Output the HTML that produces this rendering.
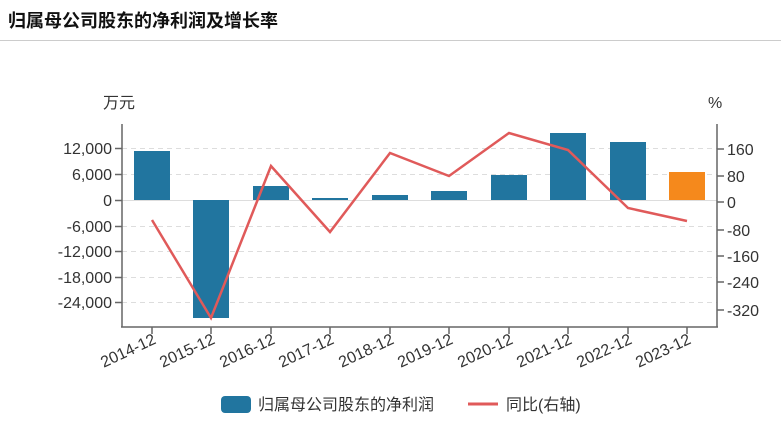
<!DOCTYPE html>
<html><head><meta charset="utf-8"><style>
body{margin:0;width:781px;height:426px;background:#fff;overflow:hidden;font-family:"Liberation Sans","Noto Sans CJK SC",sans-serif}
svg text{font-family:"Liberation Sans","Noto Sans CJK SC",sans-serif;fill:#333}
</style></head><body>
<svg width="781" height="426" viewBox="0 0 781 426">
<text x="8" y="27" font-size="18" font-weight="bold" style="fill:#111">归属母公司股东的净利润及增长率</text>
<line x1="0" y1="40.5" x2="781" y2="40.5" stroke="#ccc"/>
<text x="103" y="108" font-size="16">万元</text>
<text x="708" y="108" font-size="16">%</text>
<g stroke="#ddd" stroke-dasharray="5,4">
<line x1="122" x2="717" y1="148.5" y2="148.5"/><line x1="122" x2="717" y1="174.5" y2="174.5"/>
<line x1="122" x2="717" y1="226.5" y2="226.5"/><line x1="122" x2="717" y1="251.5" y2="251.5"/>
<line x1="122" x2="717" y1="277.5" y2="277.5"/><line x1="122" x2="717" y1="302.5" y2="302.5"/>
</g>
<line x1="122" x2="717" y1="200.5" y2="200.5" stroke="#ddd"/>
<g fill="#21759f">
<rect x="134" y="151" width="36" height="49"/>
<rect x="193" y="200" width="36" height="118"/>
<rect x="253" y="186" width="36" height="14"/>
<rect x="312" y="198" width="36" height="2"/>
<rect x="372" y="195" width="36" height="5"/>
<rect x="431" y="191" width="36" height="9"/>
<rect x="491" y="175" width="36" height="25"/>
<rect x="550" y="133" width="36" height="67"/>
<rect x="610" y="142" width="36" height="58"/>
</g>
<rect x="669" y="172" width="36" height="28" fill="#f5891c"/>
<polyline fill="none" stroke="#e05a5a" stroke-width="2.5" points="152,220 211,318 271,166 330,232 390,153 449,176 509,133 568,150 628,208 687,221"/>
<g stroke="#666" stroke-width="1.5" fill="none">
<line x1="122" y1="124" x2="122" y2="327"/>
<line x1="121" y1="327" x2="718" y2="327"/>
<line x1="717" y1="124" x2="717" y2="327"/>
<path d="M115 148.5h7M115 174.5h7M115 200.5h7M115 226.5h7M115 251.5h7M115 277.5h7M115 302.5h7"/>
<path d="M717 149h7M717 176h7M717 202h7M717 230h7M717 256h7M717 282h7M717 310h7"/>
<path d="M152 327v7M211 327v7M271 327v7M330 327v7M390 327v7M449 327v7M509 327v7M568 327v7M628 327v7M687 327v7"/>
</g>
<g font-size="16" text-anchor="end">
<text x="112" y="154">12,000</text><text x="112" y="180">6,000</text><text x="112" y="206">0</text>
<text x="112" y="232">-6,000</text><text x="112" y="257">-12,000</text><text x="112" y="283">-18,000</text><text x="112" y="308">-24,000</text>
</g>
<g font-size="16">
<text x="727" y="155">160</text><text x="727" y="182">80</text><text x="727" y="208">0</text>
<text x="727" y="236">-80</text><text x="727" y="262">-160</text><text x="727" y="288">-240</text><text x="727" y="316">-320</text>
</g>
<g font-size="16" text-anchor="end">
<text transform="translate(157,343) rotate(-25)">2014-12</text>
<text transform="translate(216,343) rotate(-25)">2015-12</text>
<text transform="translate(276,343) rotate(-25)">2016-12</text>
<text transform="translate(335,343) rotate(-25)">2017-12</text>
<text transform="translate(395,343) rotate(-25)">2018-12</text>
<text transform="translate(454,343) rotate(-25)">2019-12</text>
<text transform="translate(514,343) rotate(-25)">2020-12</text>
<text transform="translate(573,343) rotate(-25)">2021-12</text>
<text transform="translate(633,343) rotate(-25)">2022-12</text>
<text transform="translate(692,343) rotate(-25)">2023-12</text>
</g>
<rect x="221" y="396" width="30" height="17" rx="4" fill="#21759f"/>
<text x="258" y="410" font-size="16">归属母公司股东的净利润</text>
<line x1="468" y1="404" x2="498" y2="404" stroke="#e05a5a" stroke-width="3"/>
<text x="506" y="410" font-size="16">同比(右轴)</text>
</svg>
</body></html>
